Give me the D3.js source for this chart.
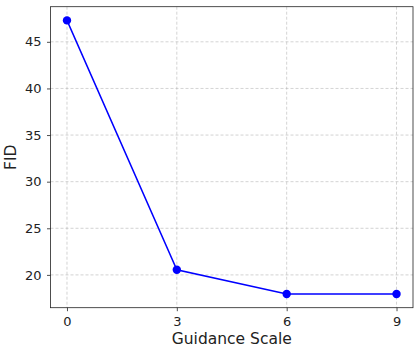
<!DOCTYPE html>
<html>
<head>
<meta charset="utf-8">
<script src="https://cdn.jsdelivr.net/npm/d3@7"></script>
<style>
  body { margin: 0; background: #fff; }
  svg { display: block; font-family: "DejaVu Sans", sans-serif; }
</style>
</head>
<body>
<svg id="chart"></svg>
<script>
const guidanceScales = [0, 3, 6, 9];
const fidValues = [47.3, 20.55, 17.95, 17.95];
const xTicks = [0, 3, 6, 9];
const yTicks = [20, 25, 30, 35, 40, 45];

const width = 415, height = 347;
const margin = { top: 6.7, right: 2, bottom: 39.3, left: 50.5 };
const innerWidth = width - margin.left - margin.right;
const innerHeight = height - margin.top - margin.bottom;

const svg = d3.select('#chart')
  .attr('width', width)
  .attr('height', height);

const x = d3.scaleLinear().domain([-0.45, 9.45]).range([0, innerWidth]);
const yMin = d3.min(fidValues), yMax = d3.max(fidValues);
const pad = (yMax - yMin) * 0.05;
const y = d3.scaleLinear().domain([yMin - pad, yMax + pad]).range([innerHeight, 0]);

const g = svg.append('g').attr('transform', `translate(${margin.left},${margin.top})`);

// grid
g.append('g').selectAll('line').data(xTicks).join('line')
  .attr('x1', d => x(d)).attr('x2', d => x(d))
  .attr('y1', 0).attr('y2', innerHeight)
  .attr('stroke', '#b0b0b0').attr('stroke-opacity', 0.7)
  .attr('stroke-width', 0.8).attr('stroke-dasharray', '3,2');
g.append('g').selectAll('line').data(yTicks).join('line')
  .attr('y1', d => y(d)).attr('y2', d => y(d))
  .attr('x1', 0).attr('x2', innerWidth)
  .attr('stroke', '#b0b0b0').attr('stroke-opacity', 0.7)
  .attr('stroke-width', 0.8).attr('stroke-dasharray', '3,2');

// axes
const xAxis = g.append('g')
  .attr('transform', `translate(0,${innerHeight})`)
  .call(d3.axisBottom(x).tickValues(xTicks).tickSize(3.5).tickPadding(5.5).tickSizeOuter(0));
const yAxis = g.append('g')
  .call(d3.axisLeft(y).tickValues(yTicks).tickSize(3.5).tickPadding(5.5).tickSizeOuter(0));
[xAxis, yAxis].forEach(a => {
  a.select('.domain').remove();
  a.selectAll('line').attr('stroke', '#222').attr('stroke-width', 0.8);
  a.selectAll('text')
    .attr('fill', '#222')
    .style('font-family', '"DejaVu Sans", sans-serif')
    .style('font-size', '13px');
});

// frame
g.append('rect')
  .attr('width', innerWidth).attr('height', innerHeight)
  .attr('fill', 'none').attr('stroke', '#222').attr('stroke-width', 0.8);

// line
const line = d3.line().x((d, i) => x(guidanceScales[i])).y(d => y(d));
g.append('path').datum(fidValues)
  .attr('d', line)
  .attr('fill', 'none').attr('stroke', '#0000ff').attr('stroke-width', 1.5);
g.selectAll('.pt').data(fidValues).join('circle')
  .attr('class', 'pt')
  .attr('cx', (d, i) => x(guidanceScales[i]))
  .attr('cy', d => y(d))
  .attr('r', 4.2)
  .attr('fill', '#0000ff');

// labels
svg.append('text')
  .attr('x', margin.left + innerWidth / 2)
  .attr('y', 344)
  .attr('text-anchor', 'middle')
  .attr('fill', '#222')
  .style('font-size', '15.5px')
  .text('Guidance Scale');
svg.append('text')
  .attr('transform', `translate(16,${margin.top + innerHeight / 2}) rotate(-90)`)
  .attr('text-anchor', 'middle')
  .attr('fill', '#222')
  .style('font-size', '15.5px')
  .text('FID');
</script>
</body>
</html>
